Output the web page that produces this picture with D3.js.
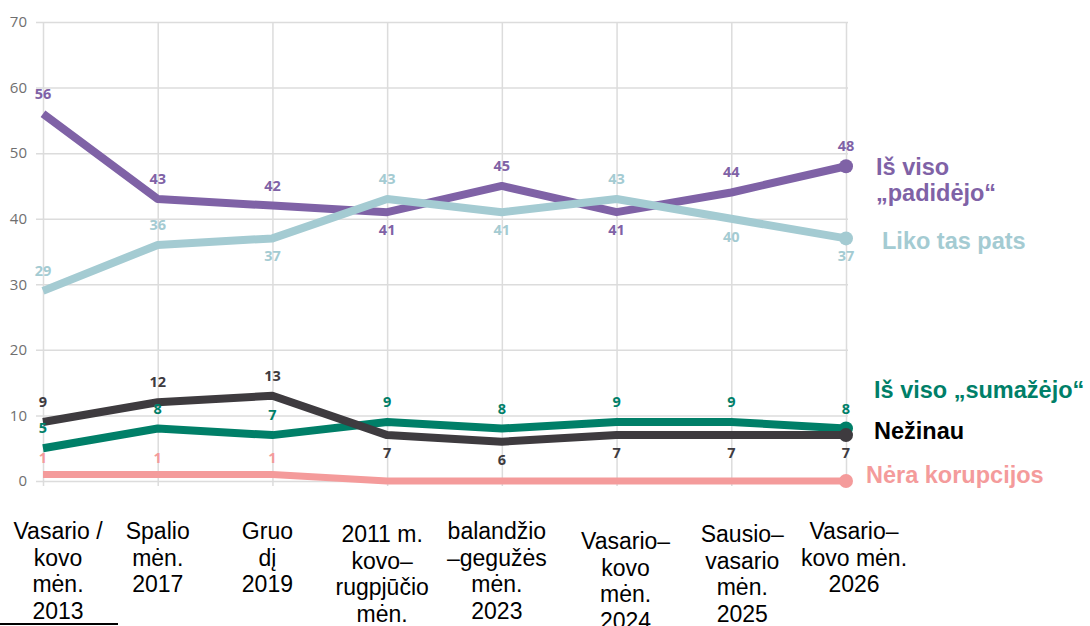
<!DOCTYPE html>
<html>
<head>
  <meta charset="utf-8">
  <title>Korupcija</title>
  <script src="https://cdn.jsdelivr.net/npm/d3@7"></script>
  <style>
    body { margin: 0; background: #fff; }
    svg { display: block; }
  </style>
</head>
<body>
  <script>
    // Data
    const periods = [
      ["Vasario /", "kovo", "mėn.", "2013"],
      ["Spalio", "mėn.", "2017"],
      ["Gruo", "dį", "2019"],
      ["2011 m.", "kovo–", "rugpjūčio", "mėn."],
      ["balandžio", "–gegužės", "mėn.", "2023"],
      ["Vasario–", "kovo", "mėn.", "2024"],
      ["Sausio–", "vasario", "mėn.", "2025"],
      ["Vasario–", "kovo mėn.", "2026"]
    ];
    const increased = [56, 43, 42, 41, 45, 41, 44, 48];
    const same = [29, 36, 37, 43, 41, 43, 40, 37];
    const decreased = [5, 8, 7, 9, 8, 9, 9, 8];
    const dontKnow = [9, 12, 13, 7, 6, 7, 7, 7];
    const noCorruption = [1, 1, 1, 0, 0, 0, 0, 0];
    const yTicks = [0, 10, 20, 30, 40, 50, 60, 70];

    // label placement: 1 = above, -1 = below
    const incPos = [1, 1, 1, -1, 1, -1, 1, 1];
    const samePos = [1, 1, -1, 1, -1, 1, -1, -1];
    const dkPos = [1, 1, 1, -1, -1, -1, -1, -1];

    const W = 1090, H = 626;
    const svg = d3.select("body").append("svg")
      .attr("width", W)
      .attr("height", H);

    const x = d3.scalePoint()
      .domain(d3.range(periods.length))
      .range([43, 846]);
    const y = d3.scaleLinear().domain([0, 70]).range([481, 22]);

    // horizontal grid + y labels
    const yAxis = svg.append("g")
      .attr("transform", "translate(36,0)")
      .call(d3.axisLeft(y).tickValues(yTicks).tickSize(-812).tickPadding(9));
    yAxis.select(".domain").remove();
    yAxis.selectAll("line").attr("stroke", "#dcdcdc").attr("stroke-width", 1.5);
    yAxis.selectAll("text")
      .attr("fill", "#6f6f6f")
      .style("font-family", "'Open Sans', sans-serif")
      .style("font-size", "15px");

    // vertical grid
    const xAxis = svg.append("g")
      .attr("transform", "translate(0,486)")
      .call(d3.axisBottom(x).tickSize(-464).tickFormat(""));
    xAxis.select(".domain").remove();
    xAxis.selectAll("line").attr("stroke", "#dcdcdc").attr("stroke-width", 1.5);

    const series = [
      { values: noCorruption, color: "#f49b9b", width: 7, pos: noCorruption.map(() => 1), skipZero: true,
        above: -11, name: ["Nėra korupcijos"], lx: 866, ly: 483 },
      { values: decreased, color: "#007f68", width: 8, pos: decreased.map(() => 1),
        name: ["Iš viso „sumažėjo“"], lx: 874, ly: 398 },
      { values: dontKnow, color: "#3e3b3f", width: 8, pos: dkPos,
        name: ["Nežinau"], lx: 874, ly: 439, nameColor: "#000" },
      { values: increased, color: "#7f62a6", width: 8, pos: incPos,
        name: ["Iš viso", "„padidėjo“"], lx: 876, ly: 175 },
      { values: same, color: "#a4cbd2", width: 8, pos: samePos,
        name: ["Liko tas pats"], lx: 882, ly: 249 }
    ];

    const line = d3.line()
      .x((d, i) => x(i))
      .y(d => y(d));

    series.forEach(s => {
      svg.append("path")
        .datum(s.values)
        .attr("fill", "none")
        .attr("stroke", s.color)
        .attr("stroke-width", s.width)
        .attr("stroke-linejoin", "round")
        .attr("d", line);

      svg.append("circle")
        .attr("cx", x(s.values.length - 1))
        .attr("cy", y(s.values[s.values.length - 1]))
        .attr("r", 7)
        .attr("fill", s.color);
    });

    // data labels
    series.forEach(s => {
      svg.append("g").selectAll("text")
        .data(s.values.map((v, i) => ({ v, i })).filter(d => !(s.skipZero && d.v === 0)))
        .join("text")
        .attr("x", d => x(d.i))
        .attr("y", d => y(d.v) + (s.pos[d.i] > 0 ? (s.above || -15) : 23))
        .attr("text-anchor", "middle")
        .attr("fill", s.color)
        .style("font-family", "'Open Sans', sans-serif")
        .style("font-weight", "bold")
        .style("font-size", "14.5px")
        .text(d => d.v);
    });

    // series names on the right
    series.forEach(s => {
      const t = svg.append("text")
        .attr("x", s.lx)
        .attr("y", s.ly)
        .attr("fill", s.nameColor || s.color)
        .style("font-family", "'Liberation Sans', Arial, sans-serif")
        .style("font-weight", "bold")
        .style("font-size", "23.5px");
      s.name.forEach((n, k) => {
        t.append("tspan").attr("x", s.lx).attr("dy", k === 0 ? 0 : 26).text(n);
      });
    });

    // category labels under the chart
    const labelShift = [15, 0, -5, -5, -5, 9, 11, 8];
    const labelTop = [539, 539, 539, 542, 539, 549, 542, 539];
    periods.forEach((lines, i) => {
      const t = svg.append("text")
        .attr("x", x(i) + labelShift[i])
        .attr("y", labelTop[i])
        .attr("text-anchor", "middle")
        .attr("fill", "#000")
        .style("font-family", "'Liberation Sans', Arial, sans-serif")
        .style("font-size", "23px");
      lines.forEach((l, k) => {
        t.append("tspan")
          .attr("x", x(i) + labelShift[i])
          .attr("dy", k === 0 ? 0 : 26.5)
          .text(l);
      });
    });

    // short rule under the first label
    svg.append("line")
      .attr("x1", 0).attr("x2", 118)
      .attr("y1", 624).attr("y2", 624)
      .attr("stroke", "#000")
      .attr("stroke-width", 2);
  </script>
</body>
</html>
